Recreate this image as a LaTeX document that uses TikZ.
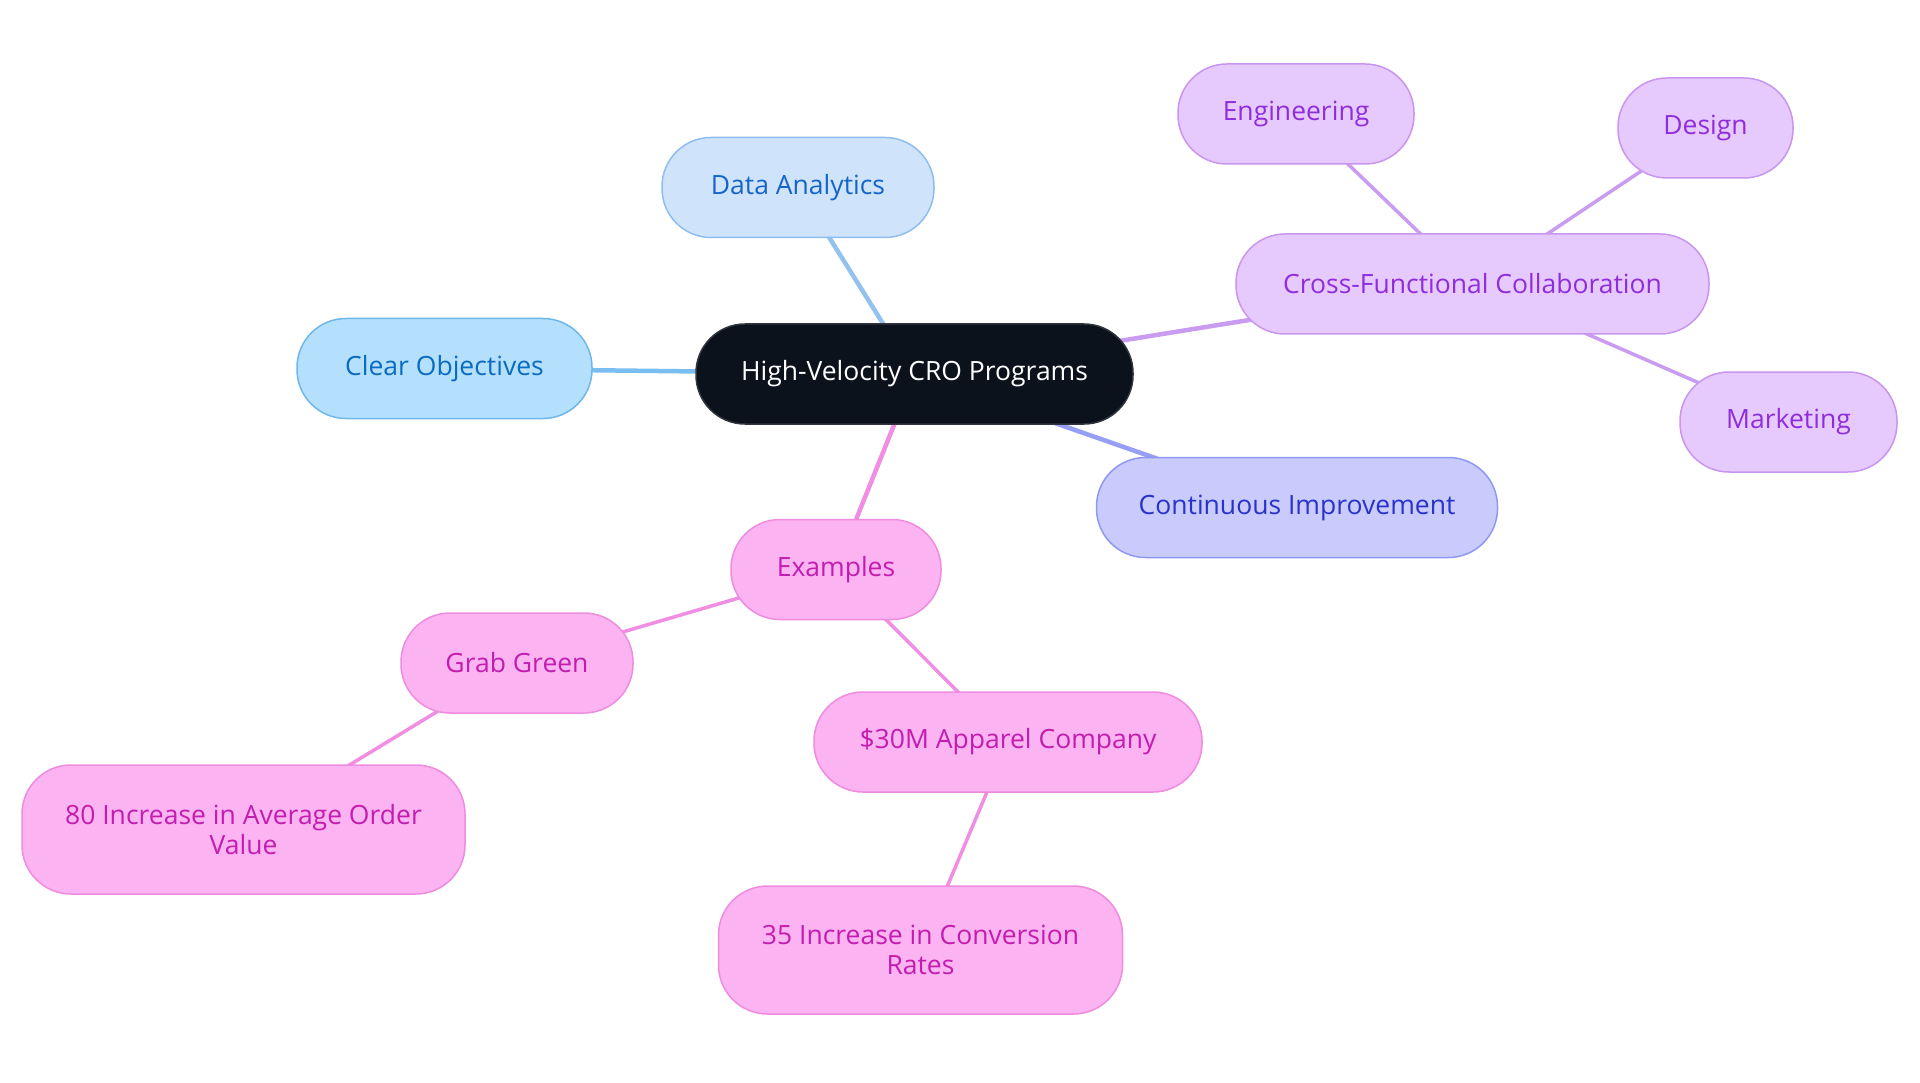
\documentclass[tikz,border=0pt]{standalone}
\usepackage{fontspec}
\setmainfont{Open Sans}
\usetikzlibrary{backgrounds}
\definecolor{rootfill}{HTML}{0C121C}
\definecolor{rootdraw}{HTML}{30353D}
\definecolor{cofill}{HTML}{B4E0FD}
\definecolor{codraw}{HTML}{6FB7EA}
\definecolor{cotext}{HTML}{0B6BBF}
\definecolor{coedge}{HTML}{78BEF0}
\definecolor{dafill}{HTML}{CFE3FB}
\definecolor{dadraw}{HTML}{90BDF0}
\definecolor{datext}{HTML}{1565C9}
\definecolor{daedge}{HTML}{94C2F0}
\definecolor{cffill}{HTML}{E6CAFE}
\definecolor{cfdraw}{HTML}{C896EE}
\definecolor{cftext}{HTML}{8E2DDB}
\definecolor{cfedge}{HTML}{C99CF2}
\definecolor{cifill}{HTML}{C9CBFD}
\definecolor{cidraw}{HTML}{8F98F0}
\definecolor{citext}{HTML}{2A32C9}
\definecolor{ciedge}{HTML}{979EF5}
\definecolor{exfill}{HTML}{FCB3F2}
\definecolor{exdraw}{HTML}{EE8CDF}
\definecolor{extext}{HTML}{C21DAE}
\definecolor{exedge}{HTML}{F08EE3}
\begin{document}
\begin{tikzpicture}[x=1pt,y=-1pt,
  mm/.style={draw, line width=1.5pt, rounded corners=49pt, inner sep=0pt,
    align=center, minimum height=100pt, font=\fontsize{26.5}{30}\selectfont},
  rootn/.style={mm, fill=rootfill, draw=rootdraw, text=white},
  con/.style={mm, fill=cofill, draw=codraw, text=cotext},
  dan/.style={mm, fill=dafill, draw=dadraw, text=datext},
  cfn/.style={mm, fill=cffill, draw=cfdraw, text=cftext},
  cin/.style={mm, fill=cifill, draw=cidraw, text=citext},
  exn/.style={mm, fill=exfill, draw=exdraw, text=extext},
  lvone/.style={line width=4.5pt},
  lvtwo/.style={line width=3.5pt}]
\useasboundingbox (0,0) rectangle (1920,1083);
\node[rootn, minimum width=437pt] (root) at (914.5,374) {High-Velocity CRO Programs};
\node[dan, minimum width=272pt] (da) at (798,187.5) {Data Analytics};
\node[con, minimum width=295pt] (co) at (444.5,368.5) {Clear Objectives};
\node[cfn, minimum width=473pt] (cf) at (1472.5,284) {Cross-Functional Collaboration};
\node[cfn, minimum width=236pt] (eng) at (1296,114) {Engineering};
\node[cfn, minimum width=175pt] (des) at (1705.5,128) {Design};
\node[cfn, minimum width=217pt] (mkt) at (1788.5,422) {Marketing};
\node[cin, minimum width=401pt] (ci) at (1297,507.5) {Continuous Improvement};
\node[exn, minimum width=210pt] (ex) at (836,569.5) {Examples};
\node[exn, minimum width=232pt] (gg) at (517,663) {Grab Green};
\node[exn, minimum width=388pt] (app) at (1008,742) {\$30M Apparel Company};
\node[exn, minimum width=443pt, minimum height=129pt] (inca) at (243.5,829.5) {80 Increase in Average Order\\Value};
\node[exn, minimum width=404pt, minimum height=128pt] (incb) at (920.5,950) {35 Increase in Conversion\\Rates};
\begin{scope}[on background layer]
\fill[white] (0,0) rectangle (1920,1083);
\draw[lvone, draw=coedge] (root.center) -- (co.center);
\draw[lvone, draw=daedge] (root.center) -- (da.center);
\draw[lvone, draw=cfedge] (root.center) -- (cf.center);
\draw[lvone, draw=ciedge] (root.center) -- (ci.center);
\draw[lvone, draw=exedge] (root.center) -- (ex.center);
\draw[lvtwo, draw=cfedge] (cf.center) -- (eng.center);
\draw[lvtwo, draw=cfedge] (cf.center) -- (des.center);
\draw[lvtwo, draw=cfedge] (cf.center) -- (mkt.center);
\draw[lvtwo, draw=exedge] (ex.center) -- (gg.center);
\draw[lvtwo, draw=exedge] (ex.center) -- (app.center);
\draw[lvtwo, draw=exedge] (gg.center) -- (inca.center);
\draw[lvtwo, draw=exedge] (app.center) -- (incb.center);
\end{scope}
\end{tikzpicture}
\end{document}
